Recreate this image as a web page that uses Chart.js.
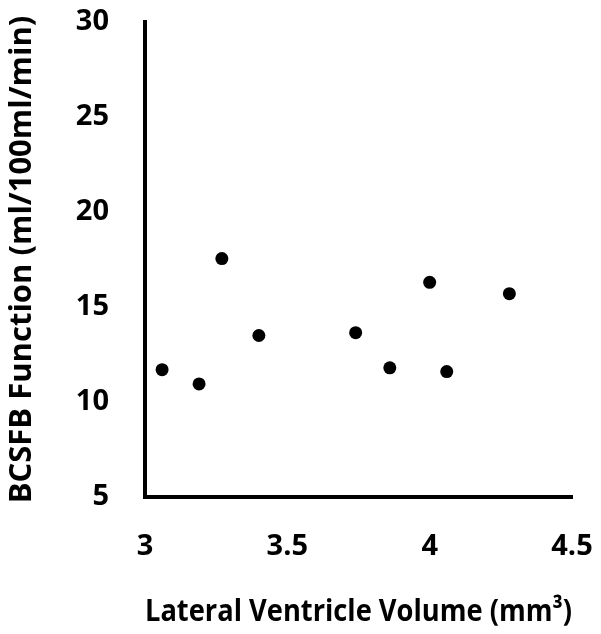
<!DOCTYPE html>
<html>
<head>
<meta charset="utf-8">
<script src="https://cdn.jsdelivr.net/npm/chart.js@4"></script>
<style>
  html, body { margin: 0; padding: 0; background: #fff; }
  #wrap { width: 601px; height: 634px; }
</style>
</head>
<body>
<div id="wrap"><canvas id="myChart" width="601" height="634"></canvas></div>
<script>
// values
const ventricleVolume = [3.06, 3.19, 3.27, 3.40, 3.74, 3.86, 4.00, 4.06, 4.28];
const bcsfbFunction = [11.7, 10.95, 17.55, 13.5, 13.65, 11.8, 16.3, 11.6, 15.7];
const xTicks = [3, 3.5, 4, 4.5];
const yTicks = [5, 10, 15, 20, 25, 30];

const points = ventricleVolume.map((v, i) => ({ x: v, y: bcsfbFunction[i] }));

const data = {
    datasets: [{
        label: 'BCSFB',
        data: points,
        backgroundColor: '#000',
        borderWidth: 0,
        pointRadius: 6.5,
        pointHoverRadius: 6.5
    }]
};

const tickFont = { family: 'Open Sans', weight: 'bold', size: 29 };

const config = {
    type: 'scatter',
    data: data,
    options: {
        responsive: false,
        animation: false,
        layout: { padding: { left: 0, top: 22, right: 29, bottom: 0 } },
        plugins: { legend: { display: false }, tooltip: { enabled: false } },
        scales: {
            x: {
                type: 'linear',
                min: xTicks[0],
                max: xTicks[xTicks.length - 1],
                afterBuildTicks: axis => { axis.ticks = xTicks.map(v => ({ value: v })); },
                afterFit: axis => {
                    axis.height = 137;
                    axis.paddingLeft = 0;
                    axis.paddingRight = 0;
                },
                grid: { display: false, drawTicks: false },
                border: { display: true, width: 4, color: '#000' },
                ticks: {
                    color: '#000',
                    font: tickFont,
                    padding: 32,
                    maxRotation: 0,
                    callback: v => String(v)
                },
                title: {
                    display: true,
                    text: 'Lateral Ventricle Volume (mm³)',
                    color: '#000',
                    font: { family: 'Open Sans', weight: 'bold', size: 31 },
                    padding: { top: 0, bottom: 3 }
                }
            },
            y: {
                min: yTicks[0],
                max: yTicks[yTicks.length - 1],
                afterBuildTicks: axis => { axis.ticks = yTicks.map(v => ({ value: v })); },
                afterFit: axis => {
                    axis.width = 145;
                    axis.paddingTop = 0;
                    axis.paddingBottom = 0;
                },
                grid: { display: false, drawTicks: false },
                border: { display: true, width: 4, color: '#000' },
                ticks: {
                    color: '#000',
                    font: tickFont,
                    padding: 36,
                    callback: v => String(v)
                },
                title: {
                    display: true,
                    text: 'BCSFB Function (ml/100ml/min)',
                    color: '#000',
                    font: { family: 'Open Sans', weight: 'bold', size: 31 },
                    padding: { top: 4, bottom: 0 }
                }
            }
        }
    }
};

const myChart = new Chart(
    document.getElementById('myChart'),
    config
);
</script>
</body>
</html>
